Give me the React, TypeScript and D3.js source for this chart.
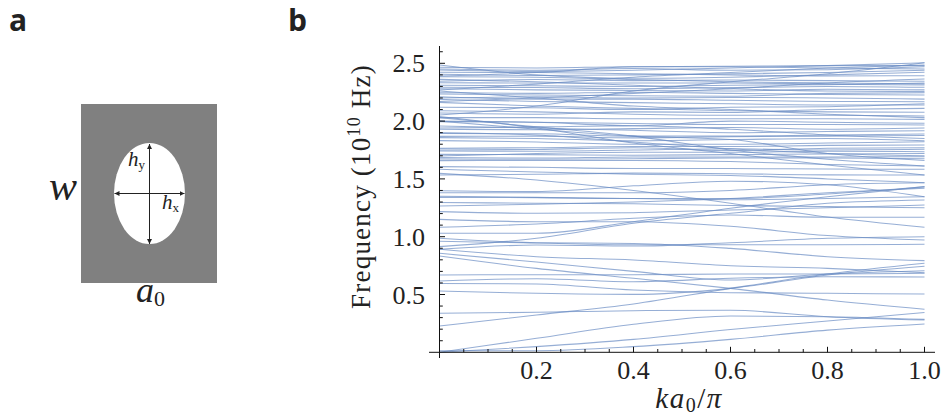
import React from 'react';
import * as d3 from 'd3';

// frequency in 10^10 Hz, read at each k below
const kSamples = [0, 0.2, 0.4, 0.6, 0.8, 1.0];
const xTicks = [0.2, 0.4, 0.6, 0.8, 1.0];
const yTicks = [0.5, 1.0, 1.5, 2.0, 2.5];

const lowBands = [
  [0, 0.121, 0.242, 0.314, 0.308, 0.285],
  [0, 0.049, 0.112, 0.197, 0.271, 0.345],
  [0.014, 0.014, 0.049, 0.112, 0.192, 0.245],
  [0.337, 0.346, 0.36, 0.363, 0.308, 0.279],
  [0.227, 0.323, 0.418, 0.553, 0.677, 0.77],
  [0.53, 0.51, 0.501, 0.553, 0.669, 0.744],
  [0.596, 0.591, 0.539, 0.516, 0.51, 0.504],
  [0.833, 0.726, 0.64, 0.553, 0.452, 0.372],
  [0.669, 0.671, 0.671, 0.677, 0.677, 0.683],
  [0.856, 0.781, 0.7, 0.625, 0.677, 0.706],
  [0.617, 0.637, 0.611, 0.64, 0.654, 0.651],
  [0.891, 0.827, 0.798, 0.749, 0.726, 0.689],
];

const midBands = [
  [0.986, 0.948, 0.942, 0.899, 0.827, 0.793],
  [0.914, 0.986, 1.116, 1.202, 1.289, 1.318],
  [0.891, 0.928, 0.919, 0.948, 0.986, 1.0],
  [0.96, 0.945, 0.93, 0.93, 0.93, 0.934],
  [1.081, 1.11, 1.159, 1.188, 1.168, 1.168],
  [1.15, 1.13, 1.13, 1.09, 1.01, 0.971],
  [1.217, 1.202, 1.208, 1.231, 1.25, 1.274],
  [1.295, 1.29, 1.285, 1.27, 1.26, 1.25],
  [1.265, 1.28, 1.3, 1.33, 1.38, 1.42],
  [1.029, 1.029, 1.13, 1.246, 1.345, 1.433],
  [1.548, 1.49, 1.4, 1.29, 1.17, 1.081],
  [1.34, 1.338, 1.33, 1.32, 1.33, 1.346],
  [1.398, 1.39, 1.44, 1.48, 1.45, 1.346],
  [1.381, 1.381, 1.38, 1.4, 1.45, 1.467],
  [1.35, 1.34, 1.33, 1.33, 1.37, 1.433],
];

const upperBands = [
  [1.583, 1.56, 1.54, 1.53, 1.5, 1.467],
  [1.534, 1.54, 1.55, 1.545, 1.535, 1.534],
  [1.606, 1.6, 1.59, 1.59, 1.585, 1.583],
  [1.658, 1.66, 1.66, 1.65, 1.625, 1.611],
  [1.684, 1.68, 1.69, 1.69, 1.69, 1.692],
  [2.04, 1.94, 1.81, 1.72, 1.62, 1.534],
  [2.03, 1.95, 1.87, 1.75, 1.67, 1.611],
  [1.698, 1.72, 1.73, 1.73, 1.74, 1.735],
  [1.741, 1.74, 1.75, 1.76, 1.75, 1.756],
  [1.764, 1.77, 1.78, 1.78, 1.79, 1.793],
  [1.831, 1.82, 1.8, 1.8, 1.81, 1.822],
  [1.857, 1.85, 1.83, 1.84, 1.85, 1.83],
  [1.894, 1.89, 1.87, 1.87, 1.88, 1.888],
  [1.957, 1.94, 1.92, 1.9, 1.91, 1.917],
  [1.995, 1.99, 1.98, 1.97, 1.97, 1.966],
  [2.0, 1.99, 1.96, 2.0, 1.99, 1.981],
  [2.053, 2.13, 2.26, 2.34, 2.41, 2.505],
  [2.03, 2.03, 2.02, 2.02, 2.02, 2.015],
  [2.09, 2.08, 2.06, 2.05, 2.05, 2.044],
  [2.162, 2.13, 2.11, 2.09, 2.08, 2.076],
  [2.188, 2.17, 2.16, 2.15, 2.14, 2.139],
  [2.211, 2.19, 2.19, 2.18, 2.17, 2.168],
  [2.246, 2.24, 2.25, 2.24, 2.23, 2.226],
  [2.269, 2.32, 2.38, 2.42, 2.46, 2.485],
  [2.292, 2.29, 2.28, 2.29, 2.3, 2.292],
  [2.332, 2.33, 2.33, 2.33, 2.32, 2.312],
  [2.361, 2.34, 2.31, 2.28, 2.26, 2.255],
  [2.384, 2.38, 2.36, 2.34, 2.33, 2.322],
  [2.422, 2.42, 2.41, 2.4, 2.39, 2.393],
  [2.442, 2.43, 2.44, 2.46, 2.48, 2.505],
  [2.465, 2.46, 2.47, 2.47, 2.46, 2.451],
  [2.485, 2.4, 2.37, 2.38, 2.4, 2.422],
  [2.39, 2.42, 2.47, 2.475, 2.48, 2.48],
  [2.17, 2.2, 2.24, 2.28, 2.33, 2.364],
  [2.26, 2.2, 2.13, 2.1, 2.06, 2.03],
  [1.94, 1.95, 1.96, 1.93, 1.88, 1.85],
  [1.9, 1.88, 1.82, 1.76, 1.72, 1.7],
  [2.0, 1.93, 1.87, 1.84, 1.72, 1.66],
];

// tighter groups in the dense part above 1.6
const denseBands = [
  [1.672, 1.67, 1.675, 1.68, 1.68, 1.675],
  [1.712, 1.71, 1.705, 1.71, 1.715, 1.72],
  [1.75, 1.755, 1.77, 1.745, 1.765, 1.77],
  [1.868, 1.87, 1.855, 1.865, 1.87, 1.875],
  [1.93, 1.925, 1.935, 1.945, 1.93, 1.94],
  [2.07, 2.06, 2.08, 2.075, 2.1, 2.11],
  [2.12, 2.115, 2.1, 2.12, 2.125, 2.15],
  [2.2, 2.21, 2.2, 2.205, 2.2, 2.19],
  [2.235, 2.225, 2.22, 2.215, 2.24, 2.245],
  [2.28, 2.27, 2.265, 2.26, 2.275, 2.27],
  [2.31, 2.305, 2.3, 2.31, 2.315, 2.33],
  [2.345, 2.36, 2.35, 2.355, 2.35, 2.345],
  [2.405, 2.395, 2.4, 2.41, 2.42, 2.44],
  [2.45, 2.44, 2.455, 2.44, 2.445, 2.47],
];

const bands = [...lowBands, ...midBands, ...upperBands, ...denseBands];

const x = d3.scaleLinear().domain([0, 1]).range([439.5, 924.5]);
const y = d3.scaleLinear().domain([0, 2.5]).range([352.3, 63.3]);

const bandLine = d3
  .line<number>()
  .x((_, i) => x(kSamples[i]))
  .y(d => y(d))
  .curve(d3.curveMonotoneX);

const xMinor = d3.range(1, 21).map(i => i / 20);
const yMinor = d3.range(1, 27).map(i => i / 10);

const SERIF = 'Liberation Serif';
const SANS = 'Open Sans';

const Arrow = ({ x1, y1, x2, y2 }: { x1: number; y1: number; x2: number; y2: number }) => (
  <line x1={x1} y1={y1} x2={x2} y2={y2} stroke="#222" strokeWidth={1} markerStart="url(#head)" markerEnd="url(#head)" />
);

export default function App() {
  return (
    <svg width={943} height={416} style={{ position: 'absolute', left: 0, top: 0 }}>
      <defs>
        <marker id="head" markerWidth={6} markerHeight={6} refX={5} refY={2.5} orient="auto-start-reverse" markerUnits="userSpaceOnUse">
          <path d="M0,0 L5,2.5 L0,5 Z" fill="#222" />
        </marker>
      </defs>

      {/* panel a */}
      <text x={9} y={31} style={{ fontFamily: SANS }} fontWeight={700} fontSize={30} fill="#222">a</text>
      <rect x={81} y={104} width={136} height={179} fill="#808080" />
      <ellipse cx={149.5} cy={193.5} rx={35.5} ry={50.5} fill="#fff" />
      <Arrow x1={149.5} y1={144} x2={149.5} y2={244} />
      <Arrow x1={114.5} y1={193.5} x2={184.5} y2={193.5} />
      <text x={128} y={166} style={{ fontFamily: SERIF }} fontStyle="italic" fontSize={21} fill="#222">
        h<tspan fontSize={13} dy={3} fontStyle="normal">y</tspan>
      </text>
      <text x={162} y={209} style={{ fontFamily: SERIF }} fontStyle="italic" fontSize={21} fill="#222">
        h<tspan fontSize={13} dy={3} fontStyle="normal">x</tspan>
      </text>
      <text x={49} y={200} style={{ fontFamily: SERIF }} fontStyle="italic" fontSize={42} fill="#222">w</text>
      <text x={136} y={302} style={{ fontFamily: SERIF }} fontStyle="italic" fontSize={36} fill="#222">
        a<tspan fontSize={22} dy={4} fontStyle="normal">0</tspan>
      </text>

      {/* panel b */}
      <text x={288} y={31} style={{ fontFamily: SANS }} fontWeight={700} fontSize={30} fill="#222">b</text>

      <g fill="none" stroke="#6a8bc3" strokeWidth={1.05} strokeOpacity={0.7}>
        {bands.map((b, i) => (
          <path key={i} d={bandLine(b) ?? ''} />
        ))}
      </g>

      <g stroke="#111" strokeWidth={1}>
        <line x1={429} x2={935} y1={y(0)} y2={y(0)} />
        <line x1={x(0)} x2={x(0)} y1={46} y2={358} />
        {xMinor.map(t => {
          const major = Math.abs(t * 5 - Math.round(t * 5)) < 1e-6;
          return <line key={t} x1={x(t)} x2={x(t)} y1={y(0)} y2={y(0) - (major ? 5.5 : 3.3)} />;
        })}
        {yMinor.map(t => {
          const major = Math.abs(t * 2 - Math.round(t * 2)) < 1e-6;
          return <line key={t} x1={x(0)} x2={x(0) + (major ? 5.5 : 3.3)} y1={y(t)} y2={y(t)} />;
        })}
      </g>

      <g style={{ fontFamily: SERIF }} fontSize={26} fill="#222">
        {xTicks.map(t => (
          <text key={t} x={x(t)} y={379} textAnchor="middle">{t.toFixed(1)}</text>
        ))}
        {yTicks.map(t => (
          <text key={t} x={425} y={y(t) + 9} textAnchor="end">{t.toFixed(1)}</text>
        ))}
      </g>

      <text x={689} y={408} textAnchor="middle" style={{ fontFamily: SERIF }} fontSize={29} fontStyle="italic" letterSpacing={1.5} fill="#222">
        ka<tspan fontSize={20} dy={4} fontStyle="normal">0</tspan><tspan dy={-4} fontStyle="normal">/</tspan>π
      </text>
      <text transform="translate(370,186.5) rotate(-90)" textAnchor="middle" style={{ fontFamily: SERIF }} fontSize={27} letterSpacing={1.2} fill="#222">
        Frequency (10<tspan fontSize={18} dy={-10}>10</tspan><tspan dy={10}> Hz)</tspan>
      </text>
    </svg>
  );
}
